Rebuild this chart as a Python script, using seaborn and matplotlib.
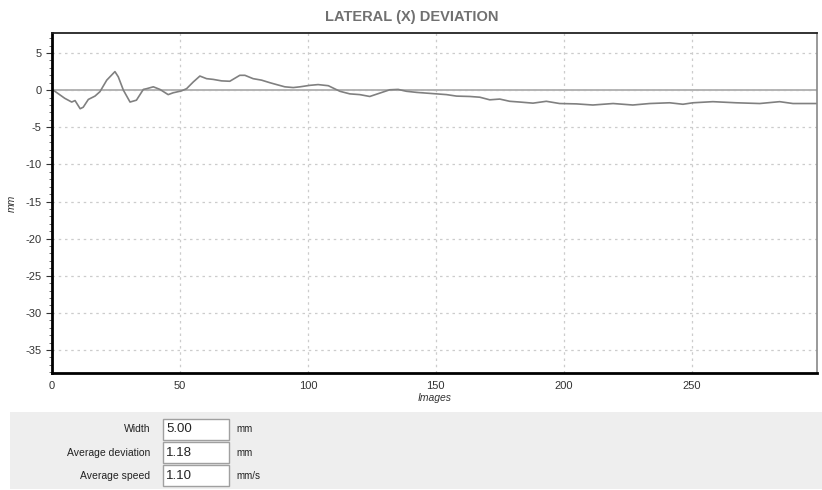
import numpy as np
import pandas as pd
import seaborn as sns
import matplotlib.pyplot as plt
from matplotlib.patches import Rectangle
from matplotlib.ticker import MultipleLocator

# deviation curve (image number, mm)
images = [0, 0.5, 5, 7.7, 9, 11, 12.2, 14.2, 16.8, 18.75, 21.4, 24.6, 25.9, 27.9,
          30.5, 33, 35.7, 37, 39.6, 42.2, 45.4, 47.4, 50.6, 52.6, 55.2, 57.8, 60.4,
          63, 66.3, 69.5, 73.4, 75.4, 78.6, 81.9, 85.2, 87.8, 91, 94.3, 96.9, 100.8,
          104, 108, 112.5, 116.4, 120.3, 124.2, 128.1, 132, 135.3, 138.5, 142.5,
          146.4, 150.3, 154.2, 158.1, 163.3, 167.2, 171.1, 175, 178.9, 182.8, 188,
          193.2, 198.4, 205, 211.4, 219.3, 227, 233.6, 241.4, 246.6, 250.5, 258.3,
          267.4, 276.6, 284.4, 289.6, 299]
deviation = [-0.1, 0, -1.1, -1.6, -1.4, -2.5, -2.3, -1.25, -0.8, -0.2, 1.35, 2.5, 1.8, 0,
             -1.6, -1.35, 0.1, 0.2, 0.45, 0.1, -0.6, -0.35, -0.1, 0.2, 1.1, 1.9, 1.55,
             1.45, 1.25, 1.2, 2.0, 2.0, 1.55, 1.35, 1.0, 0.75, 0.45, 0.35, 0.45, 0.65,
             0.75, 0.6, -0.15, -0.5, -0.6, -0.85, -0.4, 0.05, 0.1, -0.15, -0.3,
             -0.4, -0.5, -0.6, -0.8, -0.85, -0.95, -1.3, -1.2, -1.5, -1.6, -1.75,
             -1.5, -1.8, -1.85, -2.0, -1.8, -2.0, -1.8, -1.7, -1.9, -1.7, -1.55,
             -1.7, -1.8, -1.55, -1.8, -1.8]

y_ticks = [5, 0, -5, -10, -15, -20, -25, -30, -35]
x_ticks = [0, 50, 100, 150, 200, 250]

field_labels = ["Width", "Average deviation", "Average speed"]
field_values = ["5.00", "1.18", "1.10"]
field_units = ["mm", "mm", "mm/s"]

df = pd.DataFrame({"Images": images, "mm": deviation})

sns.set_style("white")
plt.rcParams['font.family'] = ['Liberation Sans', 'DejaVu Sans']
plt.rcParams['axes.unicode_minus'] = False

fig = plt.figure(figsize=(8.22, 4.9), dpi=100)
ax = fig.add_axes([52/822, 1 - 373/490, (817-52)/822, (373-33)/490])

sns.lineplot(data=df, x="Images", y="mm", color="#808080", linewidth=1.2, ax=ax)
ax.axhline(0, color="#b4b4b4", linewidth=1.4, zorder=1)

ax.set_xlim(0, 299)
ax.set_ylim(-38.1, 7.7)
ax.set_xticks(x_ticks)
ax.set_yticks(y_ticks)
ax.yaxis.set_minor_locator(MultipleLocator(1))
ax.grid(True, which="major", linestyle=(0, (2, 3)), color="#cccccc", linewidth=0.9)
ax.tick_params(axis="x", length=0, labelsize=8, pad=6, colors="#333333")
ax.tick_params(axis="y", which="major", length=4, width=0.8, labelsize=8, colors="#333333",
               direction="out", left=True)
ax.tick_params(axis="y", which="minor", length=2, width=0.6, direction="out", left=True, color="#555555")

for s in ["left", "bottom"]:
    ax.spines[s].set_color("black")
    ax.spines[s].set_linewidth(2)
ax.spines["top"].set_color("#222222")
ax.spines["top"].set_linewidth(1.3)
ax.spines["right"].set_color("#888888")
ax.spines["right"].set_linewidth(1.2)

ax.set_xlabel("Images", fontstyle="italic", fontsize=7.5, labelpad=1, color="#333333")
ax.set_ylabel("mm", fontstyle="italic", fontsize=7.5, labelpad=6, color="#333333")
fig.text(412/822, 1 - 17/490, "LATERAL (X) DEVIATION", ha="center", va="center",
         fontsize=10.5, fontweight="bold", color="#707070")

# parameter panel at the bottom
fig.patches.append(Rectangle((10/822, 1 - 489/490), 812/822, 77/490,
                             transform=fig.transFigure, facecolor="#eeeeee",
                             edgecolor="none", zorder=0))
for i, (lab, val, unit) in enumerate(zip(field_labels, field_values, field_units)):
    top = 418 + i * 23
    yc = 1 - (top + 11.5) / 490
    fig.patches.append(Rectangle((163/822, 1 - (top + 22) / 490), 66/822, 21/490,
                                 transform=fig.transFigure, facecolor="white",
                                 edgecolor="#a0a0a0", linewidth=1, zorder=1))
    fig.text(150/822, yc, lab, ha="right", va="center", fontsize=7.5, color="#222222")
    fig.text(166/822, yc, val, ha="left", va="center", fontsize=9.5, color="#222222")
    fig.text(236/822, yc, unit, ha="left", va="center", fontsize=7, color="#222222")

fig.savefig("out.png", dpi=100)
